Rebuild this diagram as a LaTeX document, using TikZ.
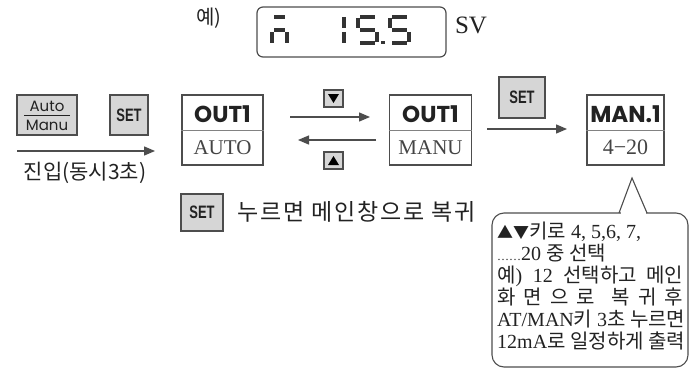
\documentclass[tikz,border=0pt]{standalone}
\usepackage{fontspec}
\usepackage{graphicx}
\setmainfont{Liberation Serif}
\newfontfamily\kr{Noto Sans CJK KR}
\newfontfamily\krsp[LetterSpace=8]{Noto Sans CJK KR}
\newfontfamily\geo{Poppins}
\newfontfamily\lsans{Liberation Sans}
\usetikzlibrary{arrows.meta}
\definecolor{bd}{HTML}{4D4D4D}
\definecolor{keyfill}{HTML}{D6D6D6}
\definecolor{txt}{HTML}{222222}
\definecolor{gtxt}{HTML}{444444}
\newcommand{\fs}[1]{\fontsize{#1}{#1}\selectfont}
\newcommand{\setword}{\scalebox{0.72}[1]{SET}}
\begin{document}
\begin{tikzpicture}[x=1pt,y=-1pt,
  mainbox/.style={draw=bd, line width=1.4pt, minimum height=70pt, inner sep=0pt},
  keybox/.style={draw=bd, fill=keyfill, line width=1.4pt, inner sep=0pt},
  arr/.style={draw=bd, line width=1.3pt, -{Triangle[length=11pt,width=9pt]}},
  divider/.style={draw=bd!70, line width=1pt},
  boldlbl/.style={font=\geo\bfseries\fs{23}, text=txt, inner sep=0pt},
  serlbl/.style={font=\fs{21}, text=gtxt, inner sep=0pt},
  setlbl/.style={font=\lsans\bfseries\fs{18}, text=txt, inner sep=0pt},
  seg/.style={draw=black!80, line width=3.4pt},
  ctext/.style={font=\fs{20}, text=txt, anchor=base west, inner sep=0pt}]
\useasboundingbox (0,0) rectangle (692,369);

% ---- top display example ----
\node[font=\kr\fs{20}, text=txt, inner sep=0pt] (ex) at (209,18) {예)};
\node[draw=bd, line width=1.2pt, rounded corners=6pt, minimum width=189pt, minimum height=50pt, inner sep=0pt] (disp) at (351.5,32) {};
\node[font=\fs{25}, text=txt, inner sep=0pt] (sv) at (471,25) {SV};
% seven segment "n-bar 15.5"
\draw[seg] (274,17) -- (285,17);
\draw[seg] (274,30) -- (285,30);
\draw[seg] (272,32.5) -- (272,43);
\draw[seg] (287,32.5) -- (287,43);
\draw[seg] (344,17) -- (344,28);
\draw[seg] (344,32) -- (344,43);
\draw[seg] (360,17) -- (375,17);
\draw[seg] (358,18) -- (358,28);
\draw[seg] (360,30) -- (375,30);
\draw[seg] (377,32) -- (377,42);
\draw[seg] (360,43) -- (375,43);
\fill[black!80] (381,41) rectangle (384.5,44.5);
\draw[seg] (392,17) -- (407,17);
\draw[seg] (390,18) -- (390,28);
\draw[seg] (392,30) -- (407,30);
\draw[seg] (409,32) -- (409,42);
\draw[seg] (392,43) -- (407,43);

% ---- keys on the left ----
\node[keybox, minimum width=60pt, minimum height=40pt] (am) at (47,115) {};
\node[font=\geo\fs{15}, text=txt, inner sep=0pt] (amt) at (47,106) {Auto};
\node[font=\geo\fs{15}, text=txt, inner sep=0pt] (amb) at (47,125.5) {Manu};
\draw[draw=txt, line width=0.8pt] ([xshift=-23pt]am.center) -- ([xshift=23pt]am.center);
\node[keybox, minimum width=38pt, minimum height=40pt] (set1) at (129,115) {};
\node[setlbl] (set1t) at (set1.center) {\setword};

\coordinate (e1) at (17,151);
\coordinate (e2) at (155,151);
\draw[arr] (e1) -- (e2);
\node[font=\kr\fs{21}, text=txt, inner sep=0pt] (entry) at (85,173) {진입(동시3초)};

% ---- main boxes ----
\node[mainbox, minimum width=81pt] (auto) at (222.5,130) {};
\draw[divider] (auto.west) -- (auto.east);
\node[boldlbl] (autot) at (222.5,114) {OUT1};
\node[serlbl] (autob) at (222.5,147.5) {AUTO};

\node[mainbox, minimum width=82pt] (manu) at (430.5,130) {};
\draw[divider] (manu.west) -- (manu.east);
\node[boldlbl] (manut) at (430.5,114) {OUT1};
\node[serlbl] (manub) at (430.5,147.5) {MANU};

\node[mainbox, minimum width=77pt] (man1) at (625.5,130) {};
\draw[divider] (man1.west) -- (man1.east);
\node[boldlbl] (man1t) at (625.5,114) {MAN.1};
\node[serlbl, font=\fs{22}] (man1b) at (625.5,147.5) {4−20};

% ---- arrows between boxes ----
\node[keybox, minimum width=19pt, minimum height=17pt] (down) at (333.5,98.5) {};
\fill[black] (328,94) -- (339,94) -- (333.5,103) -- cycle;
\node[keybox, minimum width=19pt, minimum height=17pt] (up) at (333.5,160.5) {};
\fill[black] (328,165) -- (339,165) -- (333.5,156) -- cycle;

\coordinate (u1) at (290,117);
\coordinate (u2) at (370,117);
\draw[arr] (u1) -- (u2);
\coordinate (l1) at (376,140);
\coordinate (l2) at (298,140);
\draw[arr] (l1) -- (l2);

\node[keybox, minimum width=46pt, minimum height=41pt] (set2) at (522,97.5) {};
\node[setlbl] (set2t) at (set2.center) {\setword};
\coordinate (s1) at (487,129);
\coordinate (s2) at (567,129);
\draw[arr] (s1) -- (s2);

% ---- return note ----
\node[keybox, minimum width=42pt, minimum height=37pt] (set3) at (202,212.5) {};
\node[setlbl] (set3t) at (set3.center) {\setword};
\node[font=\krsp\fs{23}, text=txt, anchor=west, inner sep=0pt] (ret) at (237,212) {누르면 메인창으로 복귀};

% ---- callout ----
\draw[bd, line width=1.1pt, rounded corners=12pt] (492,213) rectangle (688,367);
\fill[white] (620.5,211) rectangle (645.5,215);
\draw[bd, line width=1.1pt] (619,213) -- (632,178) -- (647,213);
\node[ctext] (c1) at (497,238) {{\kr\fs{16}▲▼}{\kr 키로} 4, 5,6, 7,};
\node[ctext] (c2) at (497,260) {{\fs{12}……}20 {\kr 중 선택}};
\node[ctext] (c3) at (497,282) {\makebox[186pt][s]{{\kr 예}) 12 {\kr 선택하고 메인}}};
\node[ctext] (c4) at (497,304) {\makebox[186pt][l]{\kr 화\hfill 면\hfill 으\hfill 로\hfill\hfill 복\hfill 귀\hfill 후}};
\node[ctext] (c5) at (497,326) {\makebox[188pt][s]{AT/MAN{\kr 키} 3{\kr 초 누르면}}};
\node[ctext] (c6) at (497,348) {\makebox[188pt][s]{12mA{\kr 로 일정하게 출력}}};
\end{tikzpicture}
\end{document}
